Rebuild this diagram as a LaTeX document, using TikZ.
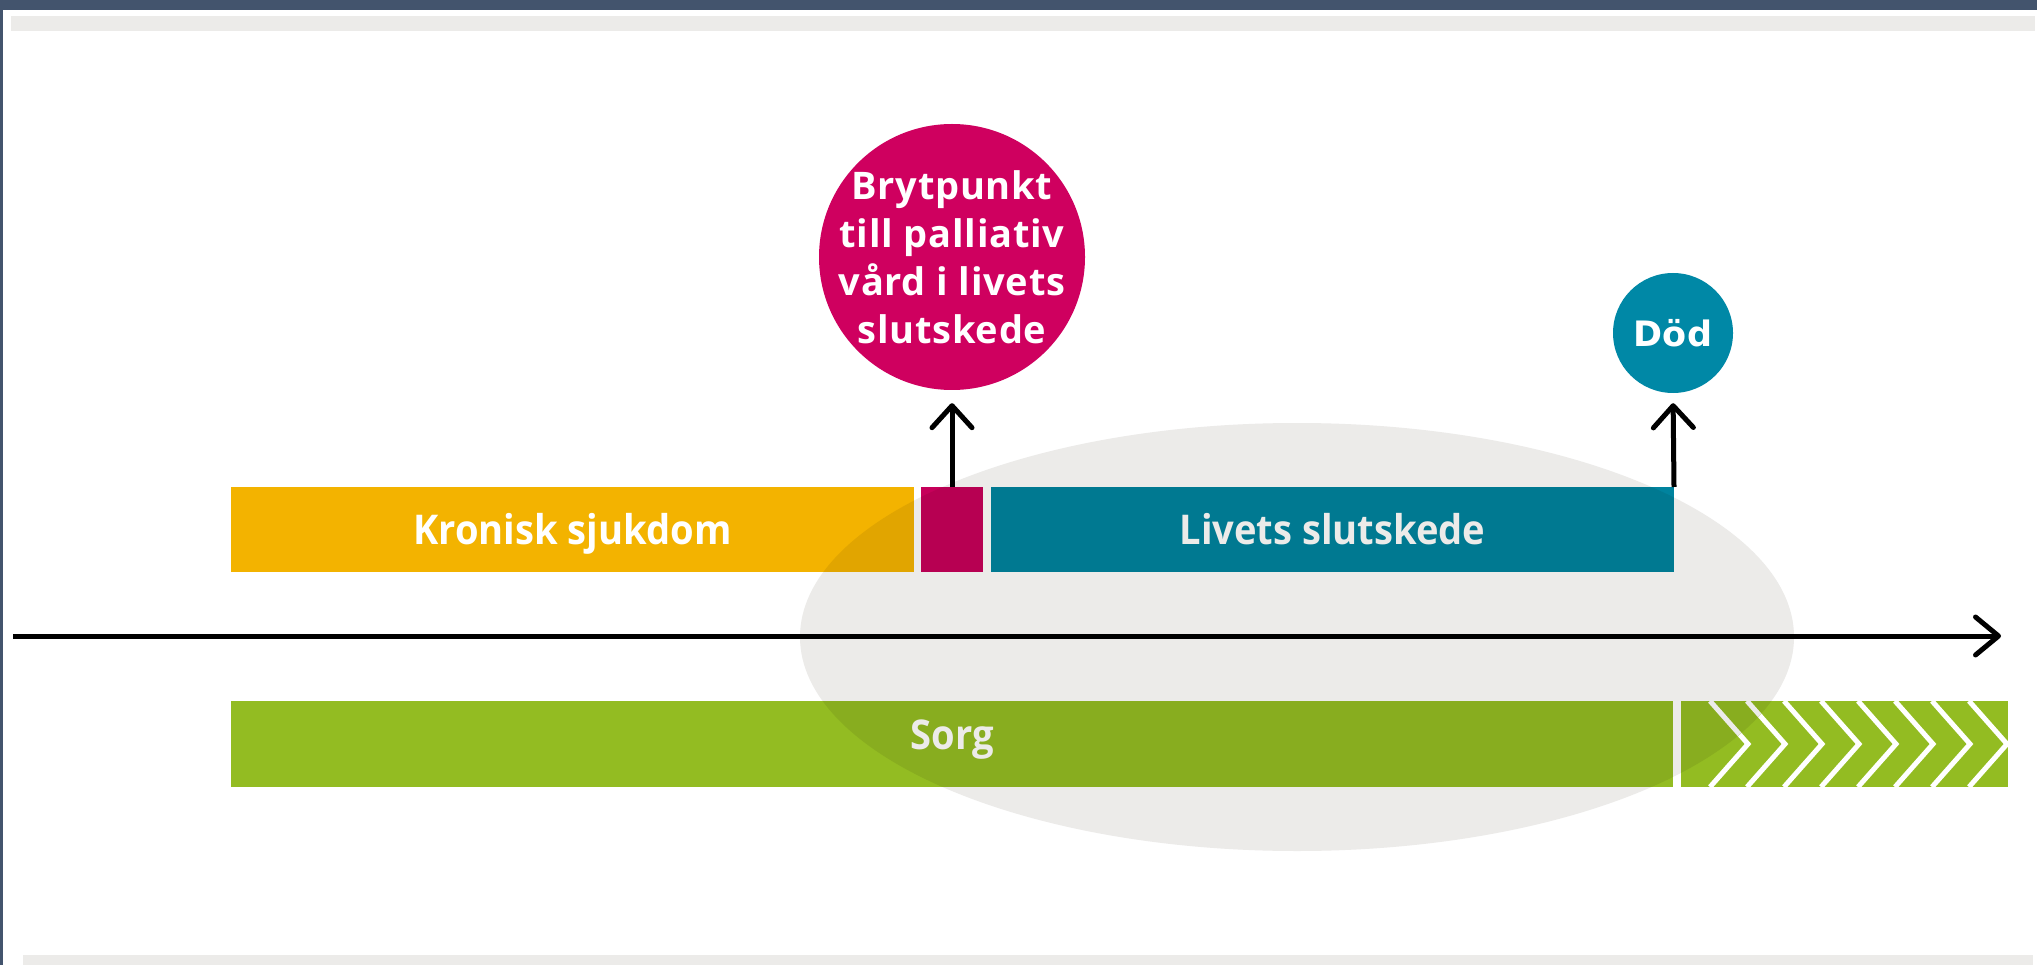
\documentclass[tikz,border=0pt]{standalone}
\usepackage{fontspec}
\setmainfont{Open Sans}
\newfontfamily\barfont{Open Sans}[FakeStretch=0.93]
\newfontfamily\bubblefont{Open Sans}[LetterSpace=2]
\newfontfamily\circfont{DejaVu Sans}
\usetikzlibrary{arrows.meta}
\definecolor{frame}{HTML}{43546D}
\definecolor{band}{HTML}{ECEBE9}
\definecolor{ykr}{HTML}{F3B300}
\definecolor{ykrd}{HTML}{E1A500}
\definecolor{mag}{HTML}{C6005A}
\definecolor{magd}{HTML}{B70052}
\definecolor{magc}{HTML}{CF005F}
\definecolor{tl}{HTML}{00839E}
\definecolor{tld}{HTML}{007991}
\definecolor{tlc}{HTML}{0088A6}
\definecolor{gr}{HTML}{93BC22}
\definecolor{grd}{HTML}{88AD1F}
\begin{document}
\begin{tikzpicture}[x=1pt,y=-1pt,
  bar/.style={draw=none, inner sep=0pt, outer sep=0pt, anchor=north west, minimum height=85pt},
  lbl/.style={font=\barfont\bfseries\fontsize{41}{48}\selectfont, text=white, inner sep=0pt, anchor=base},
  conn/.style={line width=5pt, -{Straight Barb[length=22pt,width=40pt,round]}},
  chev/.style={line width=5pt, line join=miter}
]
\useasboundingbox (0,0) rectangle (2037,965);
% frame
\fill[white] (0,0) rectangle (2037,965);
\fill[frame] (0,0) rectangle (2037,10);
\fill[frame] (0,0) rectangle (3,965);
\fill[band] (11,16) rectangle (2035,31);
\fill[band] (23,955) rectangle (2033,965);
% ellipse
\fill[band] (1297,637) ellipse [x radius=497, y radius=214];
% bars
\node[bar, fill=ykr, minimum width=683pt] (kron) at (231,487) {};
\node[bar, fill=mag, minimum width=62pt] (bp) at (921,487) {};
\node[bar, fill=tl, minimum width=683pt] (liv) at (991,487) {};
\node[bar, fill=gr, minimum width=1442pt, minimum height=86pt] (sorg) at (231,701) {};
\node[bar, fill=gr, minimum width=327pt, minimum height=86pt] (sorg2) at (1681,701) {};
% chevrons
\begin{scope}
  \clip (sorg2.south west) rectangle (sorg2.north east);
  \foreach \k in {0,...,7} {
    \draw[chev, white] ({1710+37*\k},701) -- ({1748+37*\k},744) -- ({1710+37*\k},787);
  }
\end{scope}
% overlap with ellipse
\begin{scope}
  \clip (1297,637) ellipse [x radius=497, y radius=214];
  \fill[ykrd] (kron.north west) rectangle (kron.south east);
  \fill[magd] (bp.north west) rectangle (bp.south east);
  \fill[tld] (liv.north west) rectangle (liv.south east);
  \fill[grd] (sorg.north west) rectangle (sorg.south east);
  \fill[grd] (sorg2.north west) rectangle (sorg2.south east);
  \begin{scope}
    \clip (sorg2.south west) rectangle (sorg2.north east);
    \foreach \k in {0,...,7} {
      \draw[chev, band] ({1710+37*\k},701) -- ({1748+37*\k},744) -- ({1710+37*\k},787);
    }
  \end{scope}
\end{scope}
% labels
\node[lbl] (tkron) at ([yshift=-15pt]kron.center) {Kronisk sjukdom};
\node[lbl, text=band] (tliv) at ([yshift=-15pt]liv.center) {Livets slutskede};
\node[lbl, text=band] (tsorg) at ([yshift=-5pt]sorg.center) {Sorg};
% circles
\node[circle, fill=magc, minimum size=266pt, inner sep=-20pt, align=center, text=white,
      font=\bubblefont\bfseries\fontsize{38}{48}\selectfont] (bpc) at (952,257)
      {Brytpunkt\\till palliativ\\vård i livets\\slutskede};
\node[circle, fill=tlc, minimum size=120pt, inner sep=0pt, text=white,
      font=\circfont\bfseries\fontsize{35}{40}\selectfont] (dod) at (1673,333) {Död};
% connectors
\draw[conn, shorten >=13pt] (bp.north) -- (bpc.south);
\draw[conn, shorten >=10pt] (liv.north east) -- (dod.south);
\coordinate (a0) at (13,636);
\coordinate (a1) at (2001,636);
\draw[line width=5pt, -{Straight Barb[length=23pt,width=38pt,round]}] (a0) -- (a1);
\end{tikzpicture}
\end{document}
